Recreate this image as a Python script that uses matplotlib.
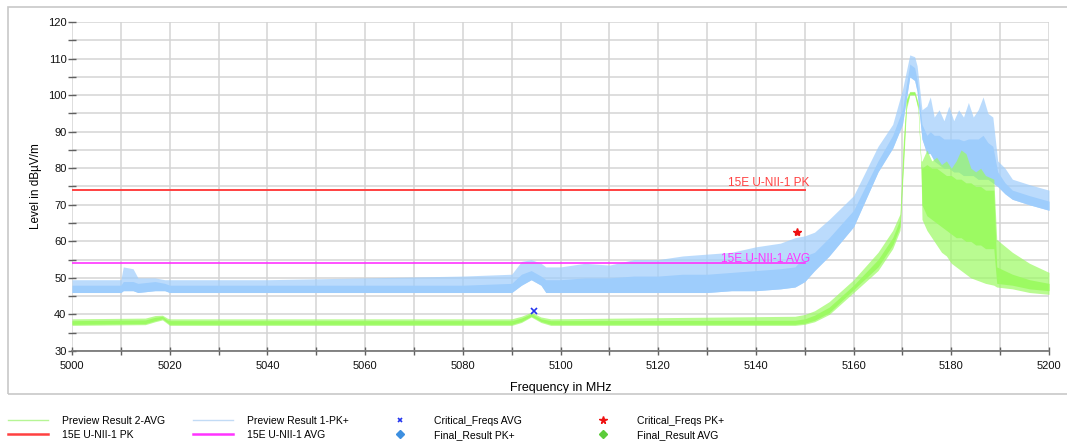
import matplotlib
matplotlib.use("Agg")
import matplotlib.pyplot as plt
from matplotlib.lines import Line2D
from matplotlib.patches import Rectangle
from matplotlib.ticker import MultipleLocator

plt.rcParams['font.family'] = ['Liberation Sans', 'DejaVu Sans']

# Preview Result 1-PK+ (envelope)
pk_freq = [5000, 5010, 5010.5, 5012.5, 5013.5, 5017, 5019, 5020, 5040, 5060, 5080, 5090,
           5092, 5094, 5096, 5097, 5100, 5105, 5110, 5115, 5120, 5125, 5130, 5135, 5140,
           5145, 5148, 5150, 5152, 5155, 5160, 5165, 5168, 5170, 5171.5, 5172.5, 5173,
           5174, 5175, 5175.7, 5176.5, 5177.5, 5178.5, 5179.5, 5180.5, 5181.5, 5182.5,
           5183.5, 5184.5, 5185.5, 5186.5, 5187.5, 5188.5, 5189.5, 5191, 5192.5, 5196, 5200]
pk_lo = [46, 46, 46.5, 46.5, 46, 46.5, 46.5, 46, 46, 46, 46, 46,
         48, 49.5, 48, 46, 46, 46, 46, 46, 46, 46, 46, 46.5, 46.5,
         47, 47.5, 49, 52, 56, 64, 79, 85.5, 92, 105, 104, 101,
         88, 84, 84, 82, 81, 80, 80, 79, 79, 78,
         78, 78, 77, 77, 77, 76, 75, 73, 71.5, 70, 68.5]
pk_core = [48, 48, 49, 49, 48.5, 49, 48.5, 48, 48, 48, 48, 48.5,
           51, 52, 50.5, 49.5, 49.5, 50, 50, 50.5, 50.5, 51, 51, 51.5, 52,
           52.5, 53, 56, 57, 61, 68.5, 82, 89, 96, 108.5, 107.5, 104,
           92, 89, 90, 89, 89, 88, 88, 88, 88, 87.5,
           88, 88, 88, 89, 87, 86, 79, 76, 74, 72.5, 71]
pk_hi = [49.5, 49.5, 53, 52.5, 50, 50, 49.5, 49.5, 49.5, 50, 50.5, 51,
         54.5, 55, 54, 53, 53, 54, 53.5, 55, 55, 56, 56.5, 57, 58.5,
         59.5, 61, 61.5, 62.5, 66, 72.5, 86, 92, 101.5, 111, 110.5, 108,
         96, 97, 99.5, 94, 96, 93, 97, 93, 96, 94,
         98, 94, 96, 99.5, 95, 94, 82, 80, 77, 75.5, 74]

# Preview Result 2-AVG
av_freq = [5000, 5015, 5017, 5018.5, 5019.5, 5020, 5090, 5092, 5094, 5096, 5098, 5148,
           5150, 5152, 5155, 5160, 5165, 5168, 5169.5, 5170.2, 5170.8, 5171.5, 5172.5,
           5173.2, 5173.8, 5174, 5175, 5176, 5177, 5178, 5179, 5180, 5181, 5182, 5183,
           5184, 5185, 5186, 5187, 5188.7, 5189.3, 5192.5, 5196, 5200]
av_lo = [37, 37.2, 38, 38.5, 37.5, 37, 37, 37.8, 39.3, 37.8, 37, 37,
         37.3, 38, 40, 46, 52, 58, 63, 80, 96, 100, 100,
         96, 80, 66, 63, 61, 59, 57, 56, 54, 53, 52, 51,
         50, 49.5, 49, 48.5, 48, 47.5, 47, 46, 45.5]
av_core_lo = [37.3, 37.5, 38.3, 38.8, 37.8, 37.3, 37.3, 38.1, 39.5, 38.1, 37.3, 37.3,
              37.6, 38.4, 40.5, 46.8, 53, 59, 64, 82, 97, 100.2, 100.2,
              96.5, 80.5, 70, 67, 66, 65, 64, 63, 62, 61, 61, 60,
              60, 59, 59, 58, 58, 48.5, 48, 47, 46.5]
av_core_hi = [38.3, 38.5, 39.2, 39.5, 38.5, 38.3, 38.3, 39, 40.2, 38.8, 38.3, 38.4,
              38.8, 39.8, 42, 48, 55, 61, 66, 86, 98.5, 100.8, 100.8,
              97.5, 81.5, 80, 81, 80, 80, 79, 78, 78, 77, 77, 76,
              76, 75, 75, 74, 74, 53, 51, 49.5, 48.5]
av_hi = [38.8, 39, 39.7, 39.8, 39, 38.8, 38.8, 39.5, 40.6, 39.3, 38.8, 39.5,
         40, 41, 43.5, 49.5, 57, 63, 67.5, 88, 99, 101, 101,
         98, 82, 82, 85, 82, 83, 81, 82, 80, 82, 85, 84,
         80, 79, 80, 78, 77, 60.5, 57, 54, 51.5]

# limit lines
limit_freq = [5000, 5150]
pk_limit = [74, 74]
avg_limit = [54, 54]

# critical frequencies
crit_avg_f, crit_avg_v = [5094.5], [41.0]
crit_pk_f, crit_pk_v = [5148.5], [62.5]

blue = '#9ecdfc'
green = '#9cfa62'
red = '#ff4040'
magenta = '#ff33ff'

fig = plt.figure(figsize=(10.67, 4.43), dpi=100)
W, H = 1067, 443
fig.patches.append(Rectangle((8 / W, 1 - 394 / H), 1070 / W, (394 - 7) / H,
                             transform=fig.transFigure, fill=False,
                             edgecolor='#c8c8c8', linewidth=1.2))

ax = fig.add_axes([72 / W, 1 - 351 / H, (1049 - 72) / W, (351 - 22) / H])

# traces
ax.fill_between(pk_freq, pk_lo, pk_hi, color=blue, alpha=0.7, linewidth=0, zorder=2)
ax.fill_between(pk_freq, pk_lo, pk_core, color=blue, linewidth=0, zorder=2)
ax.fill_between(av_freq, av_lo, av_hi, color=green, alpha=0.7, linewidth=0, zorder=3)
ax.fill_between(av_freq, av_core_lo, av_core_hi, color=green, linewidth=0, zorder=3)

# limits
ax.plot(limit_freq, pk_limit, color=red, lw=1.4, zorder=4)
ax.plot(limit_freq, avg_limit, color=magenta, lw=1.2, zorder=4)
ax.text(5151, 74.3, '15E U-NII-1 PK', color=red, fontsize=8.5,
        ha='right', va='bottom', zorder=5)
ax.text(5151, 53.6, '15E U-NII-1 AVG', color=magenta, fontsize=8.5,
        ha='right', va='bottom', zorder=5)

ax.plot(crit_avg_f, crit_avg_v, 'x', color='#2233ee', ms=4, mew=1.2, zorder=6)
ax.plot(crit_pk_f, crit_pk_v, '*', color='#ee1111', ms=6, zorder=6)

ax.set_xlim(5000, 5200)
ax.set_ylim(30, 120)
ax.xaxis.set_major_locator(MultipleLocator(20))
ax.xaxis.set_minor_locator(MultipleLocator(10))
ax.yaxis.set_major_locator(MultipleLocator(10))
ax.yaxis.set_minor_locator(MultipleLocator(5))
ax.grid(True, which='both', color='#d4d4d4', linewidth=1.1, zorder=0)
ax.set_axisbelow(True)

for s in ['left', 'top', 'right']:
    ax.spines[s].set_visible(False)
ax.spines['bottom'].set_color('#707070')
ax.spines['bottom'].set_linewidth(1.2)
ax.tick_params(axis='both', which='both', direction='inout', length=6,
               color='#606060', width=1, labelsize=8, labelcolor='#111111')
ax.tick_params(axis='y', pad=1)
ax.tick_params(axis='x', pad=4)

ax.set_xlabel('Frequency in MHz', fontsize=9, labelpad=8)
ax.set_ylabel('Level in dBµV/m', fontsize=8.5, labelpad=4)

# legend, one block per column
cols = [
    ([Line2D([], [], color='#b6f595', lw=1), Line2D([], [], color=red, lw=1.8)],
     ['Preview Result 2-AVG', '15E U-NII-1 PK'], 8),
    ([Line2D([], [], color='#c2dbf5', lw=1), Line2D([], [], color=magenta, lw=1.8)],
     ['Preview Result 1-PK+', '15E U-NII-1 AVG'], 193),
    ([Line2D([], [], ls='none', marker='x', color='#2233ee', ms=3.5, mew=1.2),
      Line2D([], [], ls='none', marker='D', color='#3d8fe0', ms=4)],
     ['Critical_Freqs AVG', 'Final_Result PK+'], 380),
    ([Line2D([], [], ls='none', marker='*', color='#ee1111', ms=5.5),
      Line2D([], [], ls='none', marker='D', color='#5ccc3a', ms=4)],
     ['Critical_Freqs PK+', 'Final_Result AVG'], 583),
]
for handles, labels, x0 in cols:
    fig.legend(handles, labels, loc='upper left', bbox_to_anchor=(x0 / W, 1 - 416 / H),
               frameon=False, fontsize=7.5, borderpad=0, borderaxespad=0,
               handlelength=3.85, handletextpad=1.35, labelspacing=0.35)

fig.savefig('out.png', dpi=100)
